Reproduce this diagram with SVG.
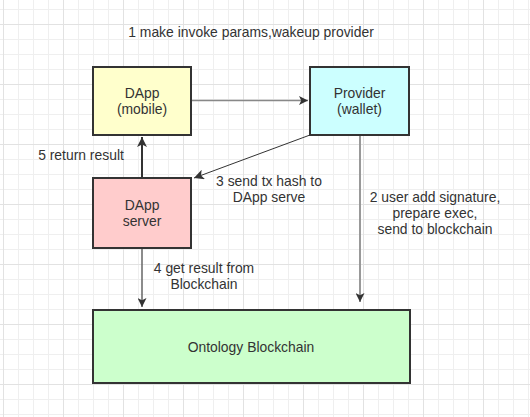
<svg xmlns="http://www.w3.org/2000/svg" width="530" height="417" viewBox="0 0 530 417">
<defs>
<pattern id="minor" width="15" height="15" patternUnits="userSpaceOnUse" x="3" y="9">
<path d="M0.5 0V15M0 0.5H15" fill="none" stroke="#efefef" stroke-width="1"/>
</pattern>
<pattern id="major" width="60" height="60" patternUnits="userSpaceOnUse" x="3" y="24">
<path d="M0.5 0V60M0 0.5H60" fill="none" stroke="#e2e2e2" stroke-width="1"/>
</pattern>
<marker id="ahGray" viewBox="0 0 10 10" refX="10" refY="5" markerWidth="13" markerHeight="9" markerUnits="userSpaceOnUse" orient="auto">
<path d="M0 0L10 5L0 10L2.5 5Z" fill="#333"/>
</marker>
<marker id="ahDark" viewBox="0 0 10 10" refX="10" refY="5" markerWidth="15" markerHeight="10" markerUnits="userSpaceOnUse" orient="auto">
<path d="M0 0L10 5L0 10L2.5 5Z" fill="#333"/>
</marker>
</defs>
<style>
.node rect{stroke:#333;stroke-width:2}
text{font-family:"Liberation Sans","Noto Sans",sans-serif;font-size:13.9px;fill:#333;text-anchor:middle}
.c{fill:none}
</style>
<rect width="530" height="417" fill="#fff"/>
<rect width="530" height="417" fill="url(#minor)"/>
<rect width="530" height="417" fill="url(#major)"/>

<g id="connectors">
<line class="c" x1="192" y1="100.5" x2="308" y2="100.5" stroke="#888" stroke-width="1.5" marker-end="url(#ahGray)"/>
<line class="c" x1="310" y1="135" x2="194" y2="178" stroke="#333" stroke-width="1" marker-end="url(#ahDark)"/>
<line class="c" x1="142" y1="177" x2="142" y2="137" stroke="#333" stroke-width="2" marker-end="url(#ahDark)"/>
<line class="c" x1="142" y1="249" x2="142" y2="307" stroke="#666" stroke-width="1.5" marker-end="url(#ahGray)"/>
<line class="c" x1="360" y1="136" x2="360" y2="302" stroke="#999" stroke-width="2" marker-end="url(#ahGray)"/>
</g>

<g id="labels">
<text x="251" y="37">1 make invoke params,wakeup provider</text>
<text x="81" y="160">5 return result</text>
<text x="269" y="186">3 send tx hash to</text>
<text x="269" y="202">DApp serve</text>
<text x="204" y="273">4 get result from</text>
<text x="204" y="289">Blockchain</text>
<text x="435" y="202">2 user add signature,</text>
<text x="435" y="218">prepare exec,</text>
<text x="435" y="234">send to blockchain</text>
</g>

<g id="dapp" class="node">
<rect x="93" y="67" width="98" height="68" fill="#ffffcc"/>
<text x="142" y="98">DApp</text>
<text x="142" y="114">(mobile)</text>
</g>
<g id="provider" class="node">
<rect x="310" y="67" width="99" height="68" fill="#ccffff"/>
<text x="359.5" y="98">Provider</text>
<text x="359.5" y="114">(wallet)</text>
</g>
<g id="server" class="node">
<rect x="93" y="178" width="98" height="70" fill="#ffcccc"/>
<text x="142" y="210">DApp</text>
<text x="142" y="226">server</text>
</g>
<g id="blockchain" class="node">
<rect x="93" y="310" width="317" height="73" fill="#ccffcc"/>
<text x="251" y="352">Ontology Blockchain</text>
</g>
</svg>
